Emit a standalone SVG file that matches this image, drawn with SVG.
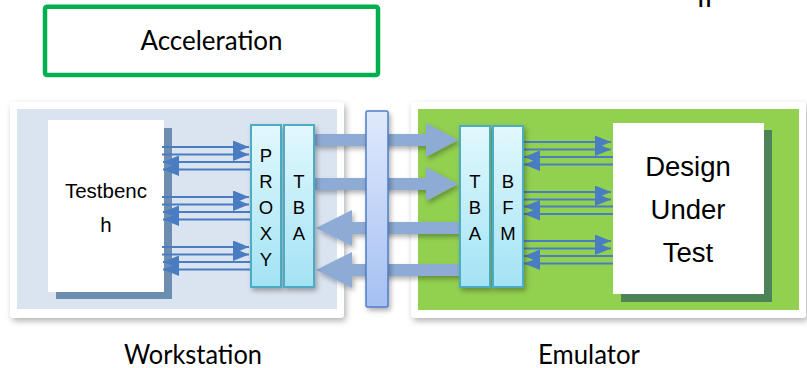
<svg xmlns="http://www.w3.org/2000/svg" width="807" height="368" viewBox="0 0 807 368">
  <defs>
    <style>
      .cal { font-family: Lato, "Open Sans", "Liberation Sans", sans-serif; fill: #000; text-anchor: middle; }
      .ari { font-family: "Liberation Sans", Arial, sans-serif; fill: #000; text-anchor: middle; }
      .conn { stroke: #4a7cc2; stroke-width: 2; fill: none; }
      .fat { fill: #8eabd5; }
      .tba { fill: url(#tbaGrad); stroke: #4bacc6; stroke-width: 2; }
    </style>
    <linearGradient id="tbaGrad" x1="0" y1="0" x2="0" y2="1">
      <stop offset="0" stop-color="#e2f8fd"/>
      <stop offset="1" stop-color="#a3e3f4"/>
    </linearGradient>
    <linearGradient id="busGrad" x1="0" y1="0" x2="0" y2="1">
      <stop offset="0" stop-color="#e0e9fc"/>
      <stop offset="1" stop-color="#a5c0f2"/>
    </linearGradient>
    <filter id="panelShadow" x="-5%" y="-5%" width="112%" height="115%">
      <feDropShadow dx="2" dy="3" stdDeviation="3" flood-color="#000" flood-opacity="0.3"/>
    </filter>
    <filter id="softShadow" x="-20%" y="-20%" width="150%" height="150%">
      <feDropShadow dx="2" dy="3" stdDeviation="2.5" flood-color="#000" flood-opacity="0.3"/>
    </filter>
    <marker id="head" markerUnits="userSpaceOnUse" markerWidth="16" markerHeight="13" refX="16" refY="6.5" orient="auto">
      <path d="M0,0 L16,6.5 L0,13 z" fill="#4a7cc2"/>
    </marker>
  </defs>

  <!-- mode banner -->
  <g id="acceleration">
    <rect x="45" y="6.7" width="333" height="68.3" rx="2" fill="#fff" stroke="#00b050" stroke-width="4.5"/>
    <text class="cal" x="211.5" y="50" font-size="26" textLength="142" lengthAdjust="spacingAndGlyphs">Acceleration</text>
  </g>

  <!-- partly visible label at the top edge -->
  <text class="cal" x="709" y="7" font-size="27">IP</text>

  <!-- host side -->
  <g id="workstation">
    <rect x="10" y="102" width="334" height="216" rx="4" fill="#fff" filter="url(#panelShadow)"/>
    <rect x="17" y="109" width="320" height="200" fill="#dae3f0"/>
    <text class="cal" x="193" y="364" font-size="26" textLength="138" lengthAdjust="spacingAndGlyphs">Workstation</text>
  </g>

  <!-- emulator side -->
  <g id="emulator">
    <rect x="411" y="102" width="395" height="216" rx="4" fill="#fff" filter="url(#panelShadow)"/>
    <rect x="418" y="109" width="381" height="201" fill="#92d050"/>
    <text class="cal" x="589" y="364" font-size="26" textLength="102" lengthAdjust="spacingAndGlyphs">Emulator</text>
  </g>

  <g id="testbench">
    <rect x="56" y="128" width="116" height="171" fill="#6d8db0"/>
    <rect x="48" y="120" width="116" height="172" fill="#fff"/>
    <text class="ari" x="106" y="198" font-size="20.5">Testbenc</text>
    <text class="ari" x="106" y="232" font-size="20.5">h</text>
  </g>

  <g id="dut">
    <rect x="621" y="130" width="151" height="172" fill="#4e8358"/>
    <rect x="613" y="123" width="151" height="171" fill="#fff"/>
    <text class="ari" x="688" y="176" font-size="27.5">Design</text>
    <text class="ari" x="688" y="219" font-size="27.5">Under</text>
    <text class="ari" x="688" y="262" font-size="27.5">Test</text>
  </g>

  <g id="connectors">
    <!-- transaction channels across the link -->
    <g filter="url(#softShadow)">
      <polygon class="fat" points="314,134 426,134 426,123 458,140 426,157 426,146 314,146"/>
      <polygon class="fat" points="314,178 426,178 426,167 458,184 426,201 426,190 314,190"/>
      <polygon class="fat" points="459,222 352,222 352,210 316,228 352,246 352,234 459,234"/>
      <polygon class="fat" points="459,264 352,264 352,252 316,270 352,288 352,276 459,276"/>
    </g>
    <!-- testbench <-> proxy signals -->
    <g marker-end="url(#head)">
      <line class="conn" x1="162" y1="147" x2="249" y2="147"/>
      <line class="conn" x1="162" y1="154.5" x2="249" y2="154.5"/>
      <line class="conn" x1="250" y1="162" x2="163" y2="162"/>
      <line class="conn" x1="250" y1="169.5" x2="163" y2="169.5"/>
      <line class="conn" x1="162" y1="197" x2="249" y2="197"/>
      <line class="conn" x1="162" y1="204.5" x2="249" y2="204.5"/>
      <line class="conn" x1="250" y1="212" x2="163" y2="212"/>
      <line class="conn" x1="250" y1="219.5" x2="163" y2="219.5"/>
      <line class="conn" x1="162" y1="247" x2="249" y2="247"/>
      <line class="conn" x1="162" y1="254.5" x2="249" y2="254.5"/>
      <line class="conn" x1="250" y1="262" x2="163" y2="262"/>
      <line class="conn" x1="250" y1="269.5" x2="163" y2="269.5"/>
    </g>
    <!-- BFM <-> DUT signals -->
    <g marker-end="url(#head)">
      <line class="conn" x1="523" y1="142" x2="611" y2="142"/>
      <line class="conn" x1="523" y1="149.5" x2="611" y2="149.5"/>
      <line class="conn" x1="613" y1="157" x2="524" y2="157"/>
      <line class="conn" x1="613" y1="164.5" x2="524" y2="164.5"/>
      <line class="conn" x1="523" y1="192" x2="611" y2="192"/>
      <line class="conn" x1="523" y1="199.5" x2="611" y2="199.5"/>
      <line class="conn" x1="613" y1="206.5" x2="524" y2="206.5"/>
      <line class="conn" x1="613" y1="214" x2="524" y2="214"/>
      <line class="conn" x1="523" y1="241" x2="611" y2="241"/>
      <line class="conn" x1="523" y1="248.5" x2="611" y2="248.5"/>
      <line class="conn" x1="613" y1="256" x2="524" y2="256"/>
      <line class="conn" x1="613" y1="263.5" x2="524" y2="263.5"/>
    </g>
  </g>

  <g id="link-bus">
    <rect x="366" y="111" width="22" height="196" rx="1.5" fill="url(#busGrad)" stroke="#4f7ec8" stroke-width="1.5" filter="url(#softShadow)"/>
  </g>

  <g id="proxy">
    <rect class="tba" x="251" y="125" width="30" height="162" filter="url(#softShadow)"/>
    <text class="ari" x="266" y="162" font-size="18.5">P</text>
    <text class="ari" x="266" y="188" font-size="18.5">R</text>
    <text class="ari" x="266" y="214" font-size="18.5">O</text>
    <text class="ari" x="266" y="240" font-size="18.5">X</text>
    <text class="ari" x="266" y="266" font-size="18.5">Y</text>
  </g>

  <g id="tba-host">
    <rect class="tba" x="284" y="125" width="30" height="162" filter="url(#softShadow)"/>
    <text class="ari" x="299" y="188" font-size="18.5">T</text>
    <text class="ari" x="299" y="214" font-size="18.5">B</text>
    <text class="ari" x="299" y="240" font-size="18.5">A</text>
  </g>

  <g id="tba-emulator">
    <rect class="tba" x="460" y="126" width="30" height="161" filter="url(#softShadow)"/>
    <text class="ari" x="475" y="188" font-size="18.5">T</text>
    <text class="ari" x="475" y="214" font-size="18.5">B</text>
    <text class="ari" x="475" y="240" font-size="18.5">A</text>
  </g>

  <g id="bfm">
    <rect class="tba" x="493" y="126" width="30" height="161" filter="url(#softShadow)"/>
    <text class="ari" x="508" y="188" font-size="18.5">B</text>
    <text class="ari" x="508" y="214" font-size="18.5">F</text>
    <text class="ari" x="508" y="240" font-size="18.5">M</text>
  </g>
</svg>
